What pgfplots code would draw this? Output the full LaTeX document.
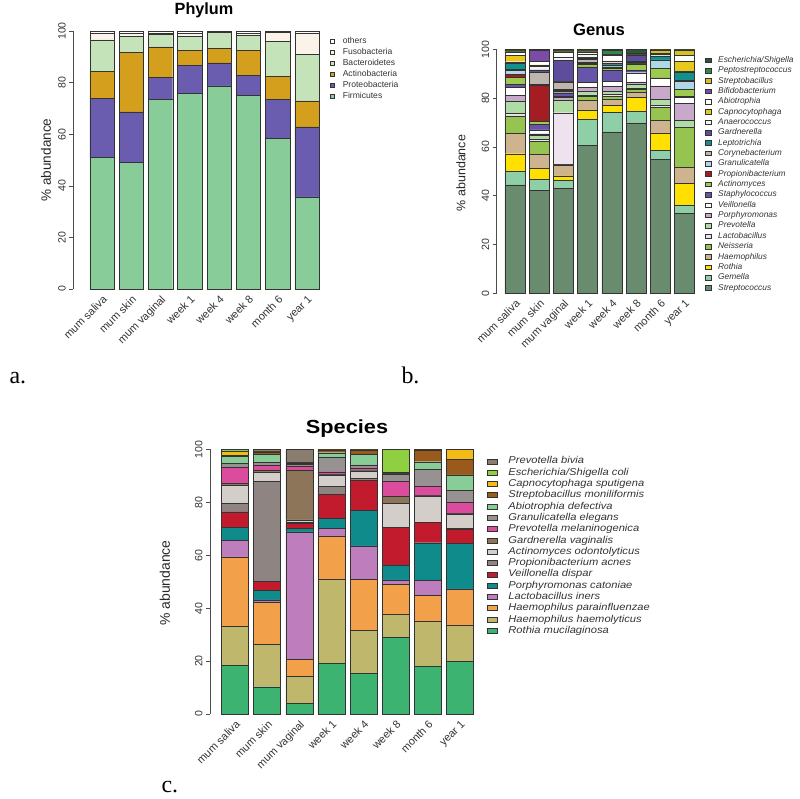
\documentclass[border=0pt]{standalone}
\usepackage{pgfplots}
\pgfplotsset{compat=1.18}
\usepackage{pgfplotstable}
\usepackage{graphicx}
\usepackage{fontspec}
\setmainfont{Liberation Sans}
\newfontfamily\serifa{Liberation Serif}

% Phylum colours
\definecolor{pFir}{HTML}{88CC99}
\definecolor{pPro}{HTML}{6A5CAF}
\definecolor{pAct}{HTML}{D39F1C}
\definecolor{pBac}{HTML}{C4E3B8}
\definecolor{pFus}{HTML}{FBF3EA}
\definecolor{pOth}{HTML}{FFFFFF}
% Genus colours
\definecolor{gStr}{HTML}{6A8C6E}
\definecolor{gGem}{HTML}{8FCFA8}
\definecolor{gRot}{HTML}{FFE000}
\definecolor{gHae}{HTML}{CDB48E}
\definecolor{gNei}{HTML}{96C450}
\definecolor{gLac}{HTML}{EFE2EF}
\definecolor{gPre}{HTML}{AEDCA4}
\definecolor{gPor}{HTML}{C9A9C9}
\definecolor{gVei}{HTML}{FFFFFF}
\definecolor{gSta}{HTML}{6655A8}
\definecolor{gAct}{HTML}{9CCB4E}
\definecolor{gPro}{HTML}{A31D22}
\definecolor{gGra}{HTML}{AED8E6}
\definecolor{gCor}{HTML}{BEB6AE}
\definecolor{gLep}{HTML}{14908C}
\definecolor{gGar}{HTML}{5E4C9C}
\definecolor{gAna}{HTML}{F4F4F4}
\definecolor{gCap}{HTML}{E8C81A}
\definecolor{gAbi}{HTML}{FFFFFF}
\definecolor{gBif}{HTML}{7A4CA6}
\definecolor{gStb}{HTML}{D2C224}
\definecolor{gPep}{HTML}{2E8A42}
\definecolor{gEsc}{HTML}{2B5534}
% Species colours
\definecolor{sRm}{HTML}{3CB371}
\definecolor{sHh}{HTML}{BFB76C}
\definecolor{sHp}{HTML}{F3A04B}
\definecolor{sLi}{HTML}{BE7EBE}
\definecolor{sPc}{HTML}{108B8C}
\definecolor{sVd}{HTML}{C11B2D}
\definecolor{sPa}{HTML}{8E8583}
\definecolor{sAo}{HTML}{D3CEC9}
\definecolor{sGv}{HTML}{8C7559}
\definecolor{sPm}{HTML}{DC4C9C}
\definecolor{sGe}{HTML}{979191}
\definecolor{sAd}{HTML}{88CC98}
\definecolor{sSm}{HTML}{995A1C}
\definecolor{sCs}{HTML}{F4BA16}
\definecolor{sEc}{HTML}{8FD040}
\definecolor{sPb}{HTML}{8B7C70}

\pgfplotstableread{
idx F P A B Fu O
0 50.9 23.1 10.4 12.2 2.6 0.8
1 49.0 19.7 22.9 6.3 1.3 0.8
2 73.4 8.5 11.9 5.0 0.5 0.7
3 75.8 10.8 5.8 5.4 1.4 0.8
4 78.7 8.9 5.7 6.3 0.2 0.2
5 75.1 7.7 9.6 5.8 1.0 0.8
6 58.5 14.9 8.9 13.7 3.6 0.4
7 35.7 27.1 10.1 18.1 8.3 0.7
}\phylum

\pgfplotstableread{
idx Str Gem Rot Hae Nei Lac Pre Por Vei Sta Act Pro Gra Cor Lep Gar Ana Cap Abi Bif Stb Pep Esc
0 44.4 5.6 7.2 8.4 7.1 1.0 5.1 2.4 3.1 1.3 3.0 1.0 1.8 0.5 2.2 0.3 0.5 2.7 1.0 0.2 0.2 0.2 0.8
1 42.3 4.5 4.3 6.0 5.3 0.8 1.4 0.8 1.6 2.3 1.2 14.6 0.6 4.8 0.3 0.8 1.5 0.5 1.5 4.4 0.1 0.1 0.3
2 43.0 3.4 1.7 4.5 0.3 21.1 5.2 1.0 0.5 1.5 0.6 0.3 0.4 3.2 0.2 8.7 1.0 0.2 1.8 0.3 0.1 0.2 0.8
3 60.7 10.6 3.6 4.3 1.4 0.7 1.4 1.6 2.2 6.3 1.0 0.3 0.5 1.4 0.5 0.3 1.0 0.3 0.5 0.3 0.1 0.3 0.7
4 66.2 8.0 2.8 2.6 1.0 0.8 1.4 2.0 2.0 4.5 0.8 0.2 0.5 0.8 0.5 0.3 0.6 0.3 2.2 0.2 0.1 1.8 0.4
5 69.9 4.6 5.8 2.1 1.3 0.5 1.5 1.0 3.7 1.1 2.5 0.2 0.3 0.5 0.3 2.2 0.2 0.1 0.2 0.2 0.1 0.2 1.5
6 55.0 3.7 7.1 5.2 5.2 1.0 2.3 5.5 3.0 0.3 3.9 0.1 3.1 0.3 1.4 0.2 0.5 0.2 0.2 0.1 1.5 0.1 0.1
7 32.8 3.4 8.9 6.5 16.4 0.2 2.8 6.9 2.3 0.4 3.0 0.1 3.3 0.2 3.6 0.1 0.2 4.1 2.2 0.1 2.3 0.1 0.1
}\genus

\pgfplotstableread{
idx Rm Hh Hp Li Pc Vd Pa Ao Gv Pm Ge Ad Sm Cs Ec Pb
0 18.3 14.7 26.4 6.1 5.0 5.9 3.2 6.9 0.6 6.0 1.5 2.6 0.6 1.3 0.9 0.0
1 10.3 16.1 15.9 0.8 3.5 3.4 38.0 3.4 0.8 1.8 1.2 3.0 0.6 0.2 0.1 0.9
2 4.0 10.1 6.6 48.1 1.3 1.9 0.4 0.9 18.9 1.4 0.8 0.2 0.3 0.1 0.1 4.9
3 19.1 31.8 16.1 3.1 3.8 9.2 2.8 4.4 0.2 1.0 5.5 1.7 1.0 0.1 0.1 0.1
4 15.4 16.1 19.4 12.6 13.3 11.6 0.5 3.0 0.3 0.8 1.1 4.1 1.4 0.1 0.1 0.2
5 29.0 8.8 11.2 1.7 5.6 14.2 0.1 9.0 2.8 5.4 2.9 0.1 0.5 0.0 8.7 0.0
6 18.1 16.8 9.8 5.9 14.1 7.6 0.1 10.0 0.3 3.2 6.5 2.9 4.5 0.1 0.1 0.0
7 20.0 13.6 13.5 0.2 17.2 5.4 0.1 5.6 0.2 4.2 4.5 5.8 5.9 3.8 0.0 0.0
}\species

\newcommand{\sx}[1]{\scalebox{1.12}[1]{#1}}

\pgfplotsset{
  rbar/.style={
    scale only axis, ybar stacked, enlargelimits=false, ymin=0, ymax=100, clip=false,
    axis lines*=left, x axis line style={draw=none}, xtick style={draw=none},
    ytick={0,20,...,100}, xtick={0,...,7},
    xticklabels={mum saliva,mum skin,mum vaginal,week 1,week 4,week 8,month 6,year 1},
    tick align=outside, major tick length=4bp,
    y axis line style={black!70, line width=0.6bp},
    ytick style={black!70, line width=0.6bp},
    /pgf/number format/assume math mode=true,
    yticklabel style={rotate=90, anchor=south, font=\fontsize{10.6}{12}\selectfont, text=black!80},
    xticklabel style={rotate=45, anchor=north east, inner sep=1bp, font=\fontsize{11}{12}\selectfont, text=black!80},
    legend cell align=left, reverse legend,
    every axis plot/.append style={draw=black!80, line width=0.45bp},
  },
}

\begin{document}
\begin{tikzpicture}
\path[use as bounding box] (0,0) rectangle (800bp,-799bp);

% ---------------- Phylum ----------------
\begin{axis}[rbar, at={(73.3bp,-289bp)}, anchor=south west,
  width=246.9bp, height=258bp, xmin=-0.98, xmax=7.45, bar width=0.83,
  legend style={at={(1.038,0.9775)}, anchor=north west, draw=none, fill=none,
    inner sep=0pt, font=\fontsize{8.6}{10}\selectfont, text=black!80,
    row sep=2.7bp, column sep=8bp,
    nodes={inner sep=0pt, text height=6.5bp, text depth=1.8bp}},
  every axis plot post/.append style={legend image code/.code={\draw[#1,line width=0.4bp] (0bp,-2.3bp) rectangle (4.6bp,2.3bp);}}]
\addplot[fill=pFir] table[x=idx,y=F]{\phylum}; \addlegendentry{Firmicutes}
\addplot[fill=pPro] table[x=idx,y=P]{\phylum}; \addlegendentry{Proteobacteria}
\addplot[fill=pAct] table[x=idx,y=A]{\phylum}; \addlegendentry{Actinobacteria}
\addplot[fill=pBac] table[x=idx,y=B]{\phylum}; \addlegendentry{Bacteroidetes}
\addplot[fill=pFus] table[x=idx,y=Fu]{\phylum}; \addlegendentry{Fusobacteria}
\addplot[fill=pOth] table[x=idx,y=O]{\phylum}; \addlegendentry{others}
\end{axis}

% ---------------- Genus ----------------
\begin{axis}[rbar, at={(496.7bp,-293.3bp)}, anchor=south west,
  width=199.9bp, height=244bp, xmin=-0.756, xmax=7.5, bar width=0.83,
  legend style={at={(1.042,0.973)}, anchor=north west, draw=none, fill=none,
    inner sep=0pt, font=\itshape\fontsize{8.4}{10}\selectfont, text=black!80,
    row sep=2.25bp, column sep=7bp,
    nodes={inner sep=0pt, text height=6.3bp, text depth=1.8bp}},
  every axis plot post/.append style={legend image code/.code={\draw[#1,line width=0.4bp] (0bp,-2.3bp) rectangle (5.6bp,2.3bp);}}]
\addplot[fill=gStr] table[x=idx,y=Str]{\genus}; \addlegendentry{Streptococcus}
\addplot[fill=gGem] table[x=idx,y=Gem]{\genus}; \addlegendentry{Gemella}
\addplot[fill=gRot] table[x=idx,y=Rot]{\genus}; \addlegendentry{Rothia}
\addplot[fill=gHae] table[x=idx,y=Hae]{\genus}; \addlegendentry{Haemophilus}
\addplot[fill=gNei] table[x=idx,y=Nei]{\genus}; \addlegendentry{Neisseria}
\addplot[fill=gLac] table[x=idx,y=Lac]{\genus}; \addlegendentry{Lactobacillus}
\addplot[fill=gPre] table[x=idx,y=Pre]{\genus}; \addlegendentry{Prevotella}
\addplot[fill=gPor] table[x=idx,y=Por]{\genus}; \addlegendentry{Porphyromonas}
\addplot[fill=gVei] table[x=idx,y=Vei]{\genus}; \addlegendentry{Veillonella}
\addplot[fill=gSta] table[x=idx,y=Sta]{\genus}; \addlegendentry{Staphylococcus}
\addplot[fill=gAct] table[x=idx,y=Act]{\genus}; \addlegendentry{Actinomyces}
\addplot[fill=gPro] table[x=idx,y=Pro]{\genus}; \addlegendentry{Propionibacterium}
\addplot[fill=gGra] table[x=idx,y=Gra]{\genus}; \addlegendentry{Granulicatella}
\addplot[fill=gCor] table[x=idx,y=Cor]{\genus}; \addlegendentry{Corynebacterium}
\addplot[fill=gLep] table[x=idx,y=Lep]{\genus}; \addlegendentry{Leptotrichia}
\addplot[fill=gGar] table[x=idx,y=Gar]{\genus}; \addlegendentry{Gardnerella}
\addplot[fill=gAna] table[x=idx,y=Ana]{\genus}; \addlegendentry{Anaerococcus}
\addplot[fill=gCap] table[x=idx,y=Cap]{\genus}; \addlegendentry{Capnocytophaga}
\addplot[fill=gAbi] table[x=idx,y=Abi]{\genus}; \addlegendentry{Abiotrophia}
\addplot[fill=gBif] table[x=idx,y=Bif]{\genus}; \addlegendentry{Bifidobacterium}
\addplot[fill=gStb] table[x=idx,y=Stb]{\genus}; \addlegendentry{Streptobacillus}
\addplot[fill=gPep] table[x=idx,y=Pep]{\genus}; \addlegendentry{Peptostreptococcus}
\addplot[fill=gEsc] table[x=idx,y=Esc]{\genus}; \addlegendentry{Escherichia/Shigella}
\end{axis}

% ---------------- Species ----------------
\begin{axis}[rbar, at={(210bp,-714bp)}, anchor=south west,
  width=267.7bp, height=264.7bp, xmin=-0.78, xmax=7.55, bar width=0.84,
  legend style={at={(1.034,0.974)}, anchor=north west, draw=none, fill=none,
    inner sep=0pt, font=\itshape\fontsize{10}{11}\selectfont, text=black!80,
    row sep=1.5bp, column sep=11bp,
    nodes={inner sep=0pt, text height=7.6bp, text depth=2.2bp}},
  every axis plot post/.append style={legend image code/.code={\draw[#1,line width=0.4bp] (0bp,-2.5bp) rectangle (10bp,2.5bp);}}]
\addplot[fill=sRm] table[x=idx,y=Rm]{\species}; \addlegendentry{\sx{Rothia mucilaginosa}}
\addplot[fill=sHh] table[x=idx,y=Hh]{\species}; \addlegendentry{\sx{Haemophilus haemolyticus}}
\addplot[fill=sHp] table[x=idx,y=Hp]{\species}; \addlegendentry{\sx{Haemophilus parainfluenzae}}
\addplot[fill=sLi] table[x=idx,y=Li]{\species}; \addlegendentry{\sx{Lactobacillus iners}}
\addplot[fill=sPc] table[x=idx,y=Pc]{\species}; \addlegendentry{\sx{Porphyromonas catoniae}}
\addplot[fill=sVd] table[x=idx,y=Vd]{\species}; \addlegendentry{\sx{Veillonella dispar}}
\addplot[fill=sPa] table[x=idx,y=Pa]{\species}; \addlegendentry{\sx{Propionibacterium acnes}}
\addplot[fill=sAo] table[x=idx,y=Ao]{\species}; \addlegendentry{\sx{Actinomyces odontolyticus}}
\addplot[fill=sGv] table[x=idx,y=Gv]{\species}; \addlegendentry{\sx{Gardnerella vaginalis}}
\addplot[fill=sPm] table[x=idx,y=Pm]{\species}; \addlegendentry{\sx{Prevotella melaninogenica}}
\addplot[fill=sGe] table[x=idx,y=Ge]{\species}; \addlegendentry{\sx{Granulicatella elegans}}
\addplot[fill=sAd] table[x=idx,y=Ad]{\species}; \addlegendentry{\sx{Abiotrophia defectiva}}
\addplot[fill=sSm] table[x=idx,y=Sm]{\species}; \addlegendentry{\sx{Streptobacillus moniliformis}}
\addplot[fill=sCs] table[x=idx,y=Cs]{\species}; \addlegendentry{\sx{Capnocytophaga sputigena}}
\addplot[fill=sEc] table[x=idx,y=Ec]{\species}; \addlegendentry{\sx{Escherichia/Shigella coli}}
\addplot[fill=sPb] table[x=idx,y=Pb]{\species}; \addlegendentry{\sx{Prevotella bivia}}
\end{axis}

% titles, axis titles, panel letters
\node[anchor=base, font=\bfseries\fontsize{16.3}{18}\selectfont] at (204bp,-14.5bp) {Phylum};
\node[anchor=base, font=\bfseries\fontsize{16.7}{18}\selectfont] at (599bp,-35bp) {Genus};
\node[anchor=base] at (347bp,-433.3bp) {\scalebox{1.15}[1]{\bfseries\fontsize{19}{22}\selectfont Species}};
\node[rotate=90, font=\fontsize{13.6}{15}\selectfont, text=black!85] at (46bp,-160bp) {\% abundance};
\node[rotate=90, font=\fontsize{12.5}{14}\selectfont, text=black!85] at (461bp,-173bp) {\% abundance};
\node[rotate=90, font=\fontsize{14}{16}\selectfont, text=black!85] at (165bp,-583bp) {\% abundance};
\node[anchor=base west, font=\serifa\fontsize{24}{26}\selectfont] at (6bp,-383bp) {a.};
\node[anchor=base west, font=\serifa\fontsize{24}{26}\selectfont] at (398bp,-383bp) {b.};
\node[anchor=base west, font=\serifa\fontsize{24}{26}\selectfont] at (158bp,-792bp) {c.};
\end{tikzpicture}
\end{document}
